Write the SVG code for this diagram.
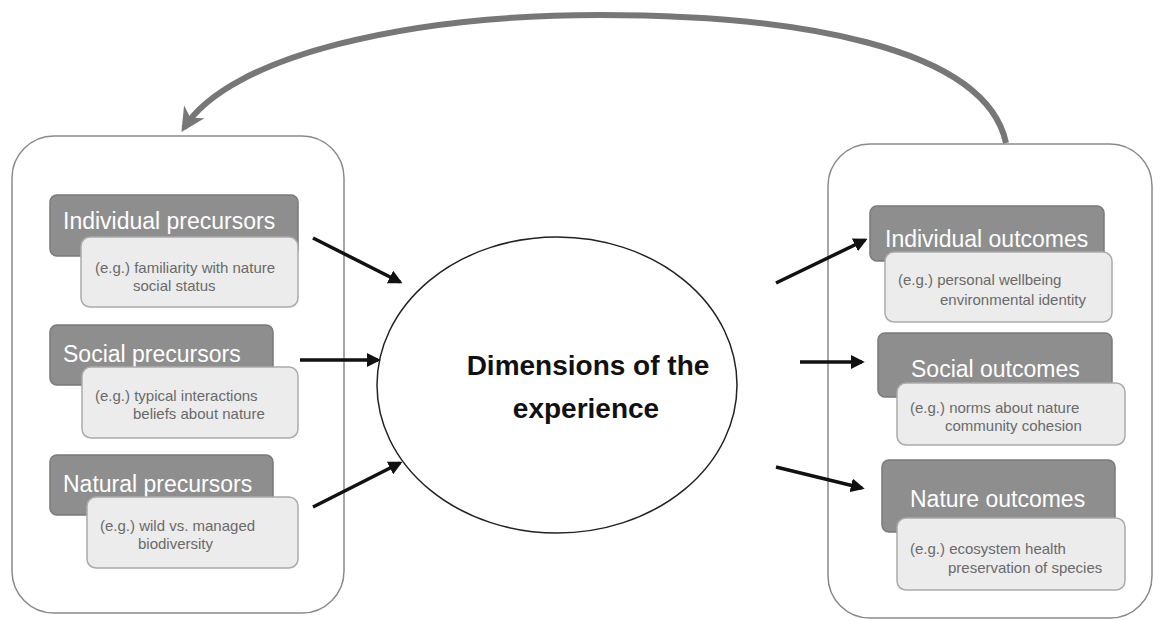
<svg xmlns="http://www.w3.org/2000/svg" width="1154" height="621" viewBox="0 0 1154 621">
<style>
.outer{fill:#fff;stroke:#8a8a8a;stroke-width:1.5}
.dark{fill:#8e8e8e;stroke:#7a7a7a;stroke-width:1.5}
.light{fill:#ececec;stroke:#ababab;stroke-width:1.5}
.hd{font-family:"Liberation Sans",Arial,sans-serif;font-size:23px;fill:#fff}
.sm{font-family:"Liberation Sans",Arial,sans-serif;font-size:15px;fill:#6a6a6a}
.ctr{font-family:"Liberation Sans",Arial,sans-serif;font-size:28px;font-weight:bold;fill:#111}
.conn{stroke:#111;stroke-width:3.5;fill:none}
</style>
<defs>
<marker id="ah" viewBox="0 0 10 10" refX="8" refY="5" markerWidth="4" markerHeight="4" orient="auto" markerUnits="strokeWidth">
<path d="M0,0 L10,5 L0,10 z" fill="#111"/>
</marker>
<marker id="ahg" viewBox="0 0 10 10" refX="8" refY="5" markerWidth="4" markerHeight="4" orient="auto" markerUnits="strokeWidth">
<path d="M0,0 L10,5 L0,10 L3,5 z" fill="#777"/>
</marker>
</defs>
<rect width="1154" height="621" fill="#fff"/>
<g id="left-panel">
<rect class="outer" x="12" y="136" width="332" height="477" rx="42"/>
</g>
<g id="right-panel">
<rect class="outer" x="828" y="144" width="324" height="474" rx="42"/>
</g>
<g id="individual-precursors">
<rect class="dark" x="50" y="195" width="248" height="61" rx="7"/>
<text class="hd" x="63" y="229">Individual precursors</text>
<rect class="light" x="81" y="237" width="217" height="70" rx="9"/>
<text class="sm" x="95" y="273">(e.g.) familiarity with nature</text>
<text class="sm" x="133" y="291">social status</text>
</g>
<g id="social-precursors">
<rect class="dark" x="50" y="325" width="223" height="60" rx="7"/>
<text class="hd" x="63" y="362">Social precursors</text>
<rect class="light" x="82" y="367" width="216" height="71" rx="9"/>
<text class="sm" x="95" y="401">(e.g.) typical interactions</text>
<text class="sm" x="133" y="419">beliefs about nature</text>
</g>
<g id="natural-precursors">
<rect class="dark" x="50" y="455" width="223" height="60" rx="7"/>
<text class="hd" x="63" y="492">Natural precursors</text>
<rect class="light" x="87" y="497" width="211" height="71" rx="9"/>
<text class="sm" x="100" y="531">(e.g.) wild vs. managed</text>
<text class="sm" x="138" y="549">biodiversity</text>
</g>
<g id="dimensions">
<ellipse cx="557" cy="385" rx="180" ry="148" fill="#fff" stroke="#222" stroke-width="1.5"/>
<text class="ctr" x="588" y="375" text-anchor="middle">Dimensions of the</text>
<text class="ctr" x="586" y="418" text-anchor="middle">experience</text>
</g>
<g id="individual-outcomes">
<rect class="dark" x="870" y="206" width="234" height="55" rx="7"/>
<text class="hd" x="885" y="247">Individual outcomes</text>
<rect class="light" x="885" y="252" width="227" height="70" rx="9"/>
<text class="sm" x="898" y="285">(e.g.) personal wellbeing</text>
<text class="sm" x="940" y="305">environmental identity</text>
</g>
<g id="social-outcomes">
<rect class="dark" x="878" y="333" width="234" height="64" rx="7"/>
<text class="hd" x="911" y="377">Social outcomes</text>
<rect class="light" x="897" y="383" width="228" height="62" rx="9"/>
<text class="sm" x="910" y="413">(e.g.) norms about nature</text>
<text class="sm" x="945" y="431">community cohesion</text>
</g>
<g id="nature-outcomes">
<rect class="dark" x="882" y="460" width="233" height="72" rx="7"/>
<text class="hd" x="910" y="507">Nature outcomes</text>
<rect class="light" x="897" y="518" width="228" height="72" rx="9"/>
<text class="sm" x="910" y="554">(e.g.) ecosystem health</text>
<text class="sm" x="948" y="573">preservation of species</text>
</g>
<g id="connectors">
<line class="conn" x1="313" y1="238" x2="400" y2="282" marker-end="url(#ah)"/>
<line class="conn" x1="300" y1="360" x2="378" y2="360" marker-end="url(#ah)"/>
<line class="conn" x1="313" y1="507" x2="400" y2="463" marker-end="url(#ah)"/>
<line class="conn" x1="776" y1="283" x2="865" y2="240" marker-end="url(#ah)"/>
<line class="conn" x1="800" y1="362" x2="862" y2="362" marker-end="url(#ah)"/>
<line class="conn" x1="776" y1="467" x2="862" y2="488" marker-end="url(#ah)"/>
<path d="M1006,143 C985,45 790,15 600,15 C410,15 230,55 184,128" fill="none" stroke="#777" stroke-width="6" marker-end="url(#ahg)"/>
</g>
</svg>
